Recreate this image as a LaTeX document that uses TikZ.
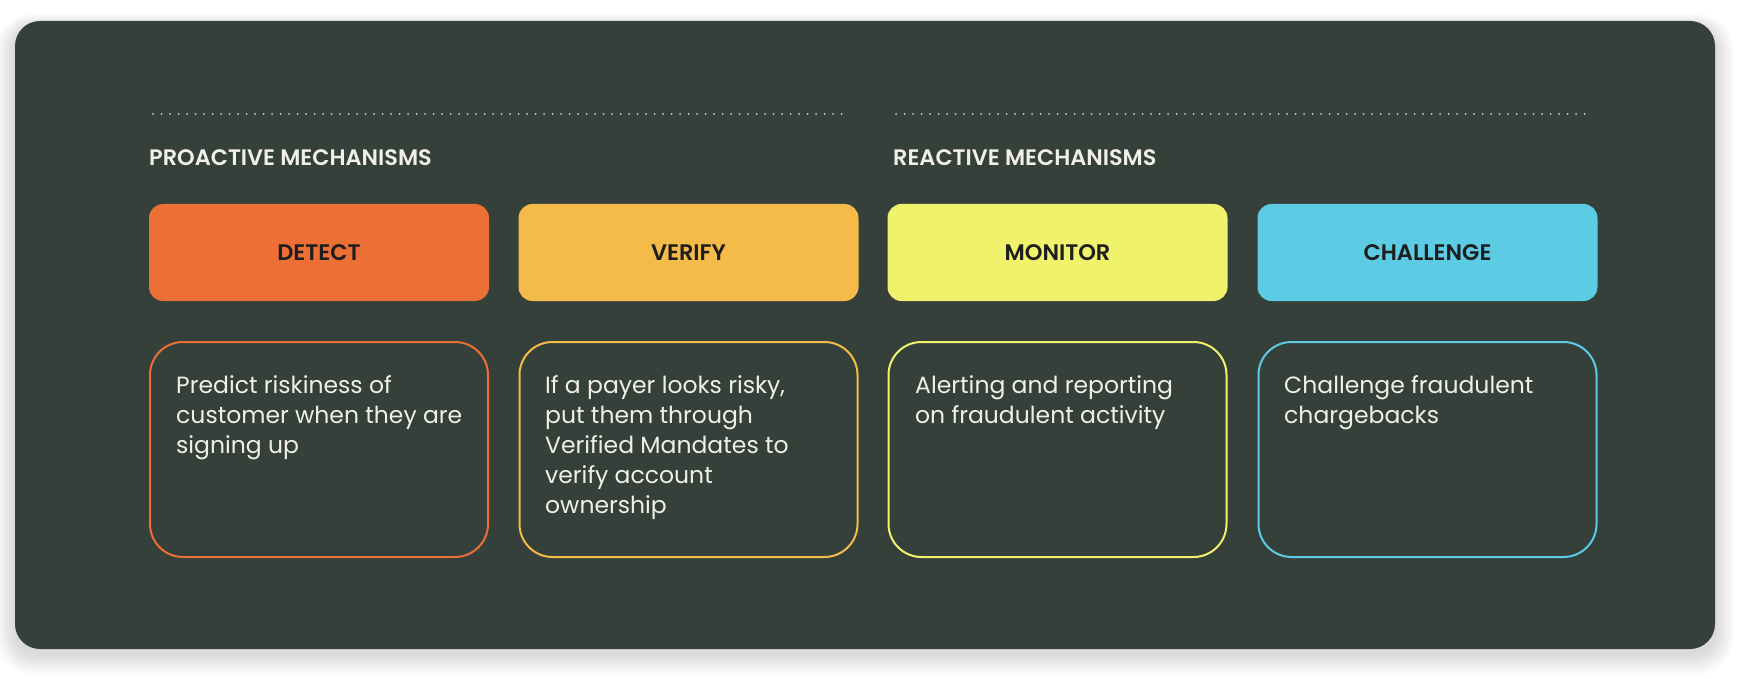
\documentclass[tikz,border=0pt]{standalone}
\usepackage{fontspec}
\setmainfont{Poppins}
\newfontfamily\fsemi{Poppins SemiBold}
\definecolor{panel}{HTML}{35403A}
\definecolor{cOrange}{HTML}{EC7035}
\definecolor{cGold}{HTML}{F4BA4A}
\definecolor{cYellow}{HTML}{F0F26B}
\definecolor{cCyan}{HTML}{5CCBE4}
\definecolor{inkdark}{HTML}{1E1E1E}
\definecolor{inklight}{HTML}{F0EFE8}
\definecolor{dotcol}{HTML}{CED1CB}
\tikzset{
  headbox/.style={rounded corners=14pt, minimum width=340pt, minimum height=97pt, inner sep=0pt, text=inkdark, font=\fontsize{22.5}{25}\fsemi},
  descbox/.style={rounded corners=33pt, minimum width=338pt, minimum height=215pt, inner sep=0pt, line width=2pt},
  desctext/.style={anchor=north west, inner sep=0pt, align=left, text=inklight, font=\fontsize{23.5}{30}\selectfont},
  sectitle/.style={anchor=base west, inner sep=0pt, text=inklight, font=\fontsize{22.4}{24}\fsemi},
  dotline/.style={dotcol, line width=2pt, line cap=round, dash pattern=on 0pt off 8.5pt}
}
\begin{document}
\begin{tikzpicture}[x=1pt,y=-1pt]
\useasboundingbox (0,0) rectangle (1749,679);
\fill[white] (0,0) rectangle (1749,679);
% shadow
\foreach \i in {1,...,12}{
  \fill[black, opacity=0.012, rounded corners={25pt+\i pt}] (15-1.6*\i,21-1.0*\i+5) rectangle (1715+1.6*\i,649+1.6*\i+6);
}
% panel
\fill[panel, rounded corners=25pt] (15,21) rectangle (1715,649);

% dotted rules
\coordinate (l1a) at (153,114);
\coordinate (l1b) at (848,114);
\coordinate (l2a) at (896,114);
\coordinate (l2b) at (1591,114);
\draw[dotline] (l1a) -- (l1b);
\draw[dotline] (l2a) -- (l2b);

% section titles
\node[sectitle] (pro) at (149,166) {PROACTIVE MECHANISMS};
\node[sectitle] (rea) at (893,166) {REACTIVE MECHANISMS};

% header boxes
\node[headbox, fill=cOrange] (detect) at (319,252.5) {DETECT};
\node[headbox, fill=cGold] (verify) at (688.5,252.5) {VERIFY};
\node[headbox, fill=cYellow] (monitor) at (1057.5,252.5) {MONITOR};
\node[headbox, fill=cCyan] (challenge) at (1427.5,252.5) {CHALLENGE};

% description boxes
\node[descbox, draw=cOrange] (d1) at (319,449.5) {};
\node[descbox, draw=cGold] (d2) at (688.5,449.5) {};
\node[descbox, draw=cYellow] (d3) at (1057.5,449.5) {};
\node[descbox, draw=cCyan] (d4) at (1427.5,449.5) {};

\node[desctext] (t1) at (176,375.5) {Predict riskiness of\\customer when they are\\signing up};
\node[desctext] (t2) at (545,375.5) {If a payer looks risky,\\put them through\\Verified Mandates to\\verify account\\ownership};
\node[desctext] (t3) at (915,375.5) {Alerting and reporting\\on fraudulent activity};
\node[desctext] (t4) at (1284,375.5) {Challenge fraudulent\\chargebacks};
\end{tikzpicture}
\end{document}
